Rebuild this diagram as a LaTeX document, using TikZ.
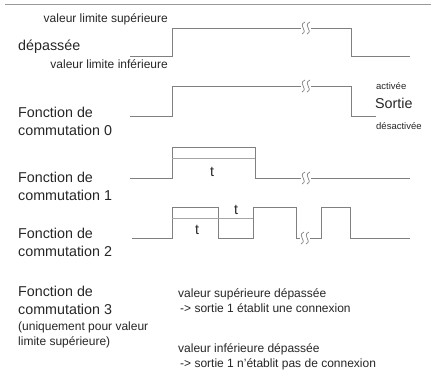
\documentclass[tikz,border=0pt]{standalone}
\usepackage{fontspec}
\setmainfont{Liberation Sans}
\begin{document}
\begin{tikzpicture}[x=1pt, y=-1pt,
  wire/.style={draw=black!50, line width=0.8pt},
  tline/.style={draw=black!35, line width=0.7pt},
  big/.style={anchor=north west, inner sep=0pt, align=left, text=black!85,
    font=\fontsize{14.3}{18}\selectfont},
  small/.style={anchor=north west, inner sep=0pt, align=left, text=black!85,
    font=\fontsize{12}{15}\selectfont},
  tiny/.style={anchor=base west, inner sep=0pt, text=black!85,
    font=\fontsize{9.5}{11}\selectfont},
  brk/.pic={
    \fill[white] (-5,-6) rectangle (5,6);
    \draw[wire, line width=0.7pt] (-1,-6) .. controls (-9,-2) and (3,2) .. (-4,6);
    \draw[wire, line width=0.7pt] (4,-6) .. controls (-4,-2) and (8,2) .. (1,6);
  }]
  \useasboundingbox (0,0) rectangle (436,376);
  \draw [black!40, line width=1pt] (5,4) -- (431,4);

  % Labels left
  \node [small, anchor=base east] (supLbl) at (168,22) {valeur limite supérieure};
  \node [big, anchor=base west] (depLbl) at (18,50) {dépassée};
  \node [small, anchor=base east] (infLbl) at (168,68) {valeur limite inférieure};
  \node [big] (fn0) at (18,106.7) {Fonction de\\commutation 0};
  \node [big] (fn1) at (18,171.7) {Fonction de\\commutation 1};
  \node [big] (fn2) at (18,227.7) {Fonction de\\commutation 2};
  \node [big] (fn3) at (18,285.7) {Fonction de\\commutation 3};
  \node [small] (fn3note) at (18,321.4) {(uniquement pour valeur\\limite supérieure)};

  % Output labels
  \node [tiny] (onLbl) at (376,89) {activée};
  \node [big, anchor=base west] (outLbl) at (375,108) {Sortie};
  \node [tiny] (offLbl) at (376,129) {désactivée};

  % Notes for function 3
  \node [small] (supNote) at (178,288.4) {valeur supérieure dépassée\\\hspace{2pt}-> sortie 1 établit une connexion};
  \node [small] (infNote) at (178,343.4) {valeur inférieure dépassée\\\hspace{2pt}-> sortie 1 n'établit pas de connexion};

  % Signal dépassée
  \draw [wire] (130,56) -- (172,56) -- (172,28) -- (351,28) -- (351,56) -- (410,56);
  \pic at (306,28) {brk};

  % Function 0
  \draw [wire] (130,116) -- (172,116) -- (172,86) -- (351,86) -- (351,116) -- (376,116);
  \pic at (306,86) {brk};

  % Function 1
  \draw [wire] (130,178) -- (172,178) -- (172,147) -- (255,147) -- (255,178) -- (410,178);
  \draw [tline] (172,158) -- (255,158);
  \node [big, anchor=center] (t1) at (212,172) {t};
  \pic at (306,178) {brk};

  % Function 2
  \draw [wire] (132,238) -- (172,238) -- (172,207) -- (218,207) -- (218,238)
    -- (253,238) -- (253,207) -- (296,207) -- (296,238) -- (321,238)
    -- (321,207) -- (350,207) -- (350,238) -- (410,238);
  \draw [tline] (172,218) -- (253,218);
  \node [big, anchor=center] (t2) at (197,230) {t};
  \node [big, anchor=center] (t3) at (236,210) {t};
  \pic at (305,238) {brk};
\end{tikzpicture}
\end{document}
